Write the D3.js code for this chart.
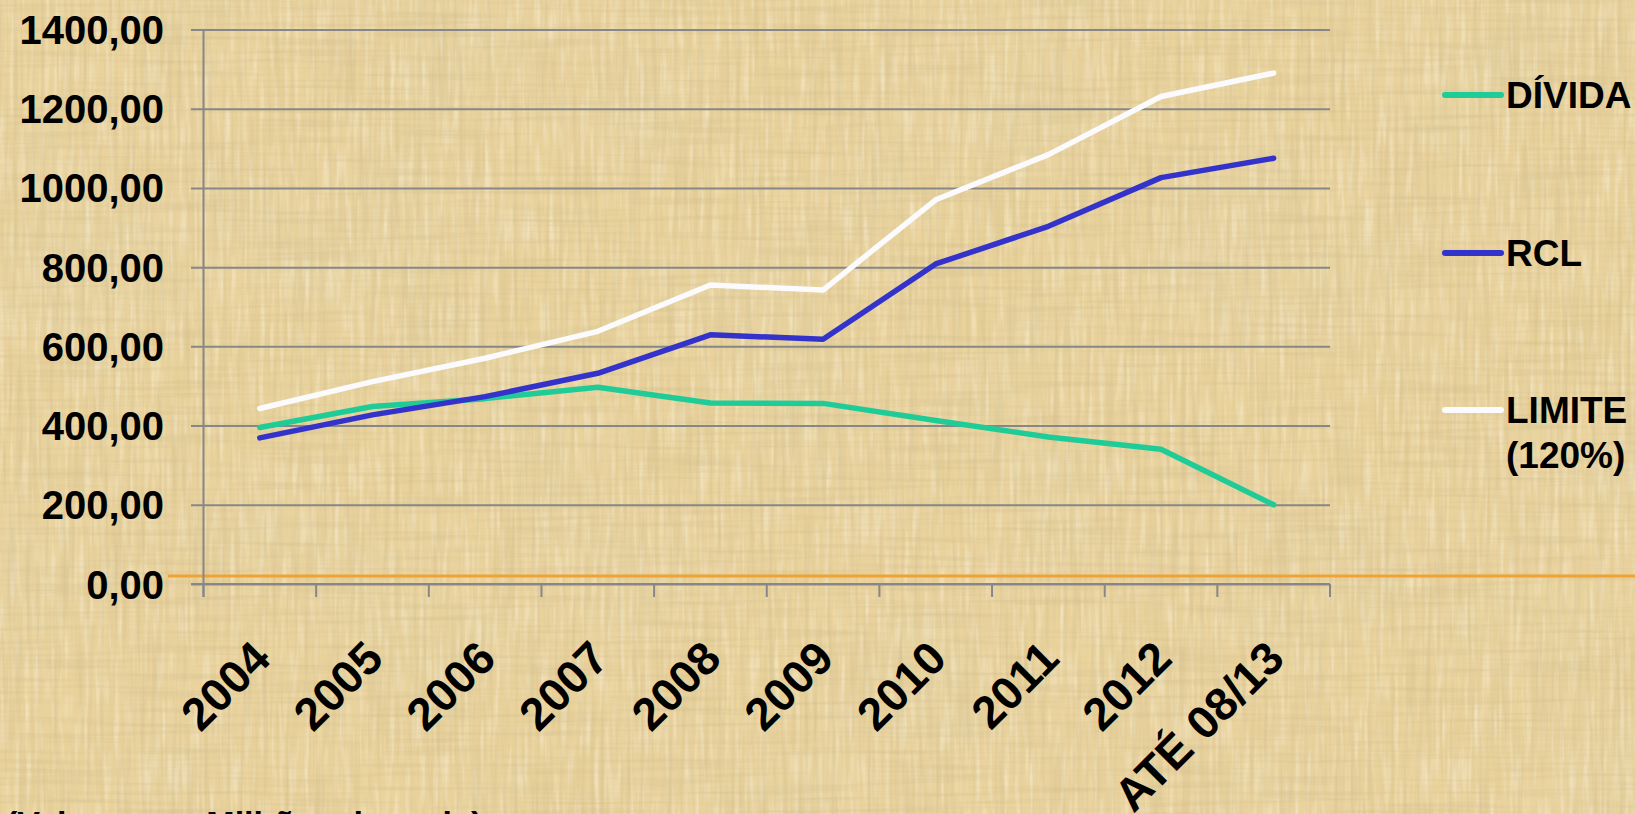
<!DOCTYPE html>
<html>
<head>
<meta charset="utf-8">
<script src="https://cdn.jsdelivr.net/npm/d3@7"></script>
<style>
  html, body { margin: 0; padding: 0; overflow: hidden; background: #e9d29b; }
  svg { display: block; font-family: "Liberation Sans", Arial, sans-serif; font-weight: bold; }
</style>
</head>
<body>
<svg id="chart" width="1635" height="814"></svg>
<script>
// chart values (milhões de reais)
var categories = ["2004", "2005", "2006", "2007", "2008", "2009", "2010", "2011", "2012", "ATÉ 08/13"];
var divida = [395, 448, 468, 497, 457, 456, 413, 371, 340, 200];
var rcl = [369, 427, 473, 532, 629, 618, 808, 903, 1026, 1075];
var limite = [443, 511, 570, 638, 755, 742, 970, 1084, 1231, 1290];
var yTicks = [0, 200, 400, 600, 800, 1000, 1200, 1400];
var seriesNames = ["DÍVIDA", "RCL", "LIMITE (120%)"];
var seriesColors = ["#1fcc98", "#3333cc", "#fbfbfd"];

var svg = d3.select("#chart");

// papyrus-like background: fine vertical + horizontal fibres, a few soft patches
var defs = svg.append("defs");
function fibres(id, freq, seed, matrix) {
  var f = defs.append("filter").attr("id", id)
      .attr("x", 0).attr("y", 0).attr("width", "100%").attr("height", "100%");
  f.append("feTurbulence").attr("type", "fractalNoise")
      .attr("baseFrequency", freq).attr("numOctaves", 2).attr("seed", seed);
  f.append("feColorMatrix").attr("values", matrix);
}
fibres("patches", "0.006 0.006", 2, "0 0 0 0 0.8  0 0 0 0 0.66  0 0 0 0 0.38  1.1 0 0 0 -0.42");
fibres("fibresV", "0.22 0.008", 4, "0 0 0 0 0.62  0 0 0 0 0.5  0 0 0 0 0.26  1.0 0 0 0 -0.42");
fibres("fibresH", "0.008 0.22", 9, "0 0 0 0 0.62  0 0 0 0 0.5  0 0 0 0 0.26  0.9 0 0 0 -0.4");
fibres("light", "0.2 0.02", 13, "0 0 0 0 1  0 0 0 0 0.95  0 0 0 0 0.84  1.0 0 0 0 -0.45");

svg.append("rect").attr("width", 1635).attr("height", 814).attr("fill", "#e9d29b");
["patches", "light", "fibresH", "fibresV"].forEach(function(id) {
  svg.append("rect").attr("width", 1635).attr("height", 814).attr("filter", "url(#" + id + ")");
});

// scales
var x = d3.scaleBand().domain(categories).range([203.5, 1330]),
    y = d3.scaleLinear().domain([0, 1400]).range([584, 29.5]);

// gridlines + y labels
var yAxis = svg.append("g")
    .attr("transform", "translate(191,0)")
    .call(d3.axisLeft(y).tickValues(yTicks).tickSize(-(1330 - 191)).tickPadding(27)
      .tickFormat(function(d) { return d3.format(".2f")(d).replace(".", ","); }));
yAxis.select(".domain").remove();
yAxis.selectAll("line").attr("stroke", "#878787").attr("stroke-width", 2);
yAxis.selectAll("text")
    .attr("fill", "#000")
    .attr("dy", "0.35em")
    .style("font-size", "40px")
    .style("font-family", "'Liberation Sans', Arial, sans-serif")
    .style("font-weight", "bold");

// orange line just above the base
svg.append("line")
    .attr("x1", 168).attr("x2", 1635)
    .attr("y1", 576).attr("y2", 576)
    .attr("stroke", "#f0a232").attr("stroke-width", 3);

// vertical axis
svg.append("line")
    .attr("x1", x.range()[0]).attr("x2", x.range()[0])
    .attr("y1", y(1400)).attr("y2", y(0) + 13)
    .attr("stroke", "#878787").attr("stroke-width", 2);

// x axis with ticks between categories
svg.append("line")
    .attr("x1", 191).attr("x2", x.range()[1])
    .attr("y1", y(0)).attr("y2", y(0))
    .attr("stroke", "#878787").attr("stroke-width", 2);
var bounds = categories.map(function(c) { return x(c); }).concat([x.range()[1]]);
svg.selectAll(".xtick")
  .data(bounds)
  .enter().append("line")
    .attr("class", "xtick")
    .attr("x1", function(d) { return d; }).attr("x2", function(d) { return d; })
    .attr("y1", y(0)).attr("y2", y(0) + 13)
    .attr("stroke", "#878787").attr("stroke-width", 2);

// rotated category labels
svg.selectAll(".xlabel")
  .data(categories)
  .enter().append("text")
    .attr("class", "xlabel")
    .attr("transform", function(d) {
      return "translate(" + (x(d) + x.bandwidth() / 2 + 13) + "," + (y(0) + 77) + ") rotate(-45)";
    })
    .attr("text-anchor", "end")
    .style("font-size", "46px")
    .text(function(d) { return d; });

// the three lines
var series = [divida, rcl, limite];
var line = d3.line()
    .x(function(d, i) { return x(categories[i]) + x.bandwidth() / 2; })
    .y(function(d) { return y(d); });

svg.selectAll(".series")
  .data(series)
  .enter().append("path")
    .attr("class", "series")
    .attr("fill", "none")
    .attr("stroke", function(d, i) { return seriesColors[i]; })
    .attr("stroke-width", 5.5)
    .attr("stroke-linecap", "round")
    .attr("stroke-linejoin", "round")
    .attr("d", line);

// legend
var legendY = [95, 253, 410];
var legend = svg.selectAll(".legend")
  .data(seriesNames)
  .enter().append("g")
    .attr("class", "legend")
    .attr("transform", function(d, i) { return "translate(1445," + legendY[i] + ")"; });
legend.append("line")
    .attr("x1", 0).attr("x2", 56)
    .attr("stroke", function(d, i) { return seriesColors[i]; })
    .attr("stroke-width", 6)
    .attr("stroke-linecap", "round");
legend.append("text")
    .style("font-size", "37px")
    .each(function(d) {
      var t = d3.select(this);
      d.split(" ").forEach(function(p, j) {
        t.append("tspan").attr("x", 61).attr("dy", j === 0 ? "0.36em" : "45px").text(p);
      });
    });

// unit note, cut by the bottom edge as in the original
svg.append("text")
    .attr("x", 6)
    .attr("y", 835)
    .style("font-size", "34px")
    .text("(Valores em Milhões de reais)");
</script>
</body>
</html>
